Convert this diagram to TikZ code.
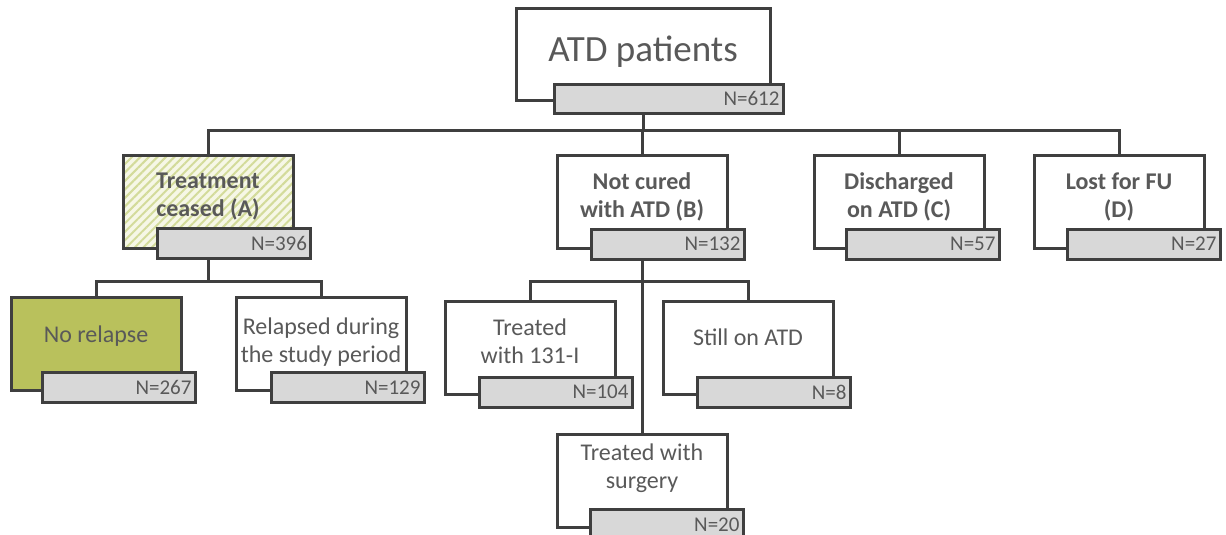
\documentclass[tikz,border=0pt]{standalone}
\usepackage{fontspec}
\setmainfont{Carlito}
\usetikzlibrary{positioning,backgrounds,patterns.meta}
\definecolor{fcline}{HTML}{3F3F3F}
\definecolor{fctext}{HTML}{595959}
\definecolor{fcgrey}{HTML}{D8D8D8}
\definecolor{fccream}{HTML}{F6F7E6}
\definecolor{fchatch}{HTML}{D3DB9A}
\definecolor{fcolive}{HTML}{B9C15C}
\tikzset{
  cell/.style   ={draw=fcline, line width=3pt, minimum width=170pt,
                  minimum height=93pt, inner sep=0pt},
  box/.style    ={cell, fill=white},
  topbox/.style ={box, minimum width=254pt, minimum height=91pt},
  ceased/.style ={cell, preaction={fill=fccream},
                  pattern={Lines[angle=45,distance=6pt,line width=2pt]},
                  pattern color=fchatch},
  olive/.style  ={cell, fill=fcolive},
  nbox/.style   ={draw=fcline, line width=3pt, fill=fcgrey, anchor=north west,
                  minimum width=153pt, minimum height=30pt, inner sep=0pt,
                  text width=146pt, align=right, text=fctext,
                  font=\fontsize{21}{24}\selectfont},
  lbl/.style    ={text=fctext, align=center, inner sep=0pt,
                  font=\fontsize{24}{28}\selectfont},
  hd/.style     ={lbl, font=\fontsize{24}{28}\selectfont\bfseries},
  link/.style   ={draw=fcline, line width=3pt},
}
\begin{document}
\begin{tikzpicture}[x=1pt,y=-1pt]
    \useasboundingbox (0,0) rectangle (1226,535);
    % --- root ---
    \node[topbox] (top) at (643,54.5) {};
    \node[lbl, font=\fontsize{37}{40}\selectfont] (top-t) at ([yshift=3pt]top.center) {ATD patients};
    \node[nbox, minimum width=229pt, minimum height=29pt, text width=222pt]
         (top-n) at ([xshift=38pt,yshift=19pt]top.south west) {N=612};
    % --- first level ---
    \node[ceased] (a) at (208,201.5) {};
    \node[hd] (a-t) at ([yshift=5pt]a.center) {Treatment\\ceased (A)};
    \node[nbox] (a-n) at ([xshift=34pt,yshift=22pt]a.south west) {N=396};
    \node[box] (b) at (642,201.5) {};
    \node[hd] (b-t) at ([yshift=5pt]b.center) {Not cured\\with ATD (B)};
    \node[nbox] (b-n) at ([xshift=34pt,yshift=22pt]b.south west) {N=132};
    \node[box] (c) at (899,201.5) {};
    \node[hd] (c-t) at ([yshift=5pt]c.center) {Discharged\\on ATD (C)};
    \node[nbox] (c-n) at ([xshift=32pt,yshift=22pt]c.south west) {N=57};
    \node[box] (d) at (1119,201.5) {};
    \node[hd] (d-t) at ([yshift=5pt]d.center) {Lost for FU\\(D)};
    \node[nbox] (d-n) at ([xshift=33pt,yshift=22pt]d.south west) {N=27};
    % --- below A ---
    \node[olive] (norel) at (96,344) {};
    \node[lbl] (norel-t) at ([yshift=8pt]norel.center) {No relapse};
    \node[nbox] (norel-n) at ([xshift=31pt,yshift=21pt]norel.south west) {N=267};
    \node[box] (relap) at (321,344) {};
    \node[lbl] (relap-t) at ([yshift=2pt]relap.center) {Relapsed during\\the study period};
    \node[nbox] (relap-n) at ([xshift=35pt,yshift=21pt]relap.south west) {N=129};
    % --- below B ---
    \node[box] (iod) at (530,347.5) {};
    \node[lbl] (iod-t) at ([yshift=6pt]iod.center) {Treated\\with 131-I};
    \node[nbox] (iod-n) at ([xshift=34pt,yshift=20pt]iod.south west) {N=104};
    \node[box] (still) at (748,347.5) {};
    \node[lbl] (still-t) at ([yshift=10pt]still.center) {Still on ATD};
    \node[nbox] (still-n) at ([xshift=34pt,yshift=20pt]still.south west) {N=8};
    \node[box] (surg) at (642,481) {};
    \node[lbl] (surg-t) at ([yshift=13pt]surg.center) {Treated with\\surgery};
    \node[nbox] (surg-n) at ([xshift=33pt,yshift=21pt]surg.south west) {N=20};
    % --- connectors ---
    \begin{scope}[on background layer]
      \coordinate (bus1) at (643,130);
      \coordinate (bus2) at (208,281);
      \coordinate (bus3) at (642,281);
      \draw[link] (top.center) -- (bus1)
                  (a.north) |- (bus1) -| (d.north)
                  (b.north) |- (bus1)  (c.north) |- (bus1);
      \draw[link] (a.center) -- (bus2)
                  (norel.north) |- (bus2) -| (relap.north);
      \draw[link] (b.center) -- (surg.north)
                  (iod.north) |- (bus3) -| (still.north);
    \end{scope}
\end{tikzpicture}
\end{document}
